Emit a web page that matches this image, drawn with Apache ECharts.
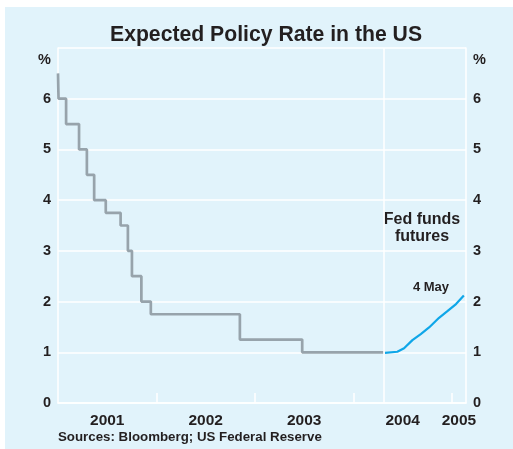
<!DOCTYPE html>
<html>
<head>
<meta charset="utf-8">
<script src="https://cdn.jsdelivr.net/npm/echarts@6/dist/echarts.min.js"></script>
<style>
html,body{margin:0;padding:0;background:#ffffff;}
#bg{position:absolute;left:5px;top:7px;right:0;bottom:0;background:#e1f3fb;}
#chart{position:absolute;left:0;top:0;width:513px;height:449px;}
</style>
</head>
<body>
<div id="bg"></div>
<div id="chart"></div>
<script>
// Fed funds target (history)
const policyDates = ['2001-01-01','2001-01-03','2001-01-31','2001-03-20','2001-04-18','2001-05-15','2001-06-27','2001-08-21','2001-09-17','2001-10-02','2001-11-06','2001-12-11','2002-11-06','2003-06-25','2004-04-22'];
const policyValues = [6.5, 6.0, 5.5, 5.0, 4.5, 4.0, 3.75, 3.5, 3.0, 2.5, 2.0, 1.75, 1.25, 1.0, 1.0];
// Fed funds futures (expected path as at 4 May)
const futuresDates = ['2004-04-27','2004-06-12','2004-07-07','2004-08-07','2004-09-07','2004-10-08','2004-11-14','2004-12-15','2005-01-16','2005-02-14'];
const futuresValues = [0.99, 1.01, 1.08, 1.24, 1.36, 1.49, 1.68, 1.81, 1.95, 2.12];
const yearLabels = ['2001','2002','2003','2004','2005'];
const yTicks = [0,1,2,3,4,5,6];
const dividerDate = '2004-04-23';
const axisStart = '2001-01-01';
const axisEnd = '2005-02-22';

function toYear(s){
  const d = new Date(s + 'T00:00:00Z');
  const y = d.getUTCFullYear();
  const a = Date.UTC(y,0,1), b = Date.UTC(y+1,0,1);
  return y + (d.getTime()-a)/(b-a);
}
const xMin = toYear(axisStart), xMax = toYear(axisEnd);
const policyData = policyDates.map((d,i)=>[toYear(d), policyValues[i]]);
const futuresData = futuresDates.map((d,i)=>[toYear(d), futuresValues[i]]);
const tickYears = yearLabels.slice(1).map(Number);
const labelPos = yearLabels.map(y => {
  const s = Number(y), e = Math.min(s+1, xMax);
  return (Math.max(s,xMin)+e)/2;
});

const FONT = 'Liberation Sans, Arial, Helvetica, sans-serif';
const TXT = '#231f20';
const chart = echarts.init(document.getElementById('chart'), null, {renderer:'canvas'});
const yAxisBase = {
  type:'value', min:0, max:7, interval:1,
  axisLine:{show:true, lineStyle:{color:'#ffffff', width:1.5}},
  axisTick:{show:false},
  axisLabel:{color:TXT, fontFamily:FONT, fontWeight:'bold', fontSize:14.5,
    formatter: v => yTicks.indexOf(v) >= 0 ? String(v) : ''}
};
chart.setOption({
  animation:false,
  backgroundColor:'transparent',
  title:{text:'Expected Policy Rate in the US', left:105, top:20,
    textStyle:{fontFamily:FONT, fontWeight:'bold', fontSize:21.2, color:TXT}},
  grid:{left:58, right:47, top:48, bottom:46},
  xAxis:{type:'value', min:xMin, max:xMax,
    axisLine:{show:true, onZero:false, lineStyle:{color:'#ffffff', width:1.5}},
    axisTick:{show:true, inside:true, length:10, customValues:tickYears, lineStyle:{color:'#ffffff', width:1.5}},
    axisLabel:{customValues:labelPos, formatter: v => String(Math.floor(v)), margin:10,
      color:TXT, fontFamily:FONT, fontWeight:'bold', fontSize:15.5},
    splitLine:{show:false}},
  yAxis:[
    Object.assign({}, yAxisBase, {position:'left', axisLabel:Object.assign({}, yAxisBase.axisLabel, {margin:7}),
      splitLine:{show:true, lineStyle:{color:'#ffffff', width:1.5}}}),
    Object.assign({}, yAxisBase, {position:'right', axisLabel:Object.assign({}, yAxisBase.axisLabel, {margin:7}),
      splitLine:{show:false}})
  ],
  series:[
    {type:'line', step:'end', data:policyData, symbol:'none',
      lineStyle:{color:'#97a3ab', width:2.7}, itemStyle:{color:'#97a3ab'},
      markLine:{silent:true, symbol:'none', label:{show:false},
        lineStyle:{color:'#ffffff', width:1.5, type:'solid'},
        data:[{xAxis: toYear(dividerDate)}]}, z:3},
    {type:'line', data:futuresData, symbol:'none',
      lineStyle:{color:'#0fa6e8', width:2.2}, itemStyle:{color:'#0fa6e8'}, z:4}
  ],
  graphic:[
    {type:'text', left:38, top:52, style:{text:'%', font:'bold 14.5px '+FONT, fill:TXT}},
    {type:'text', left:473, top:52, style:{text:'%', font:'bold 14.5px '+FONT, fill:TXT}},
    {type:'text', x:422, y:211, style:{text:'Fed funds\nfutures', font:'bold 16px '+FONT, fill:TXT, align:'center', lineHeight:17}},
    {type:'text', x:431, y:281, style:{text:'4 May', font:'bold 13px '+FONT, fill:TXT, align:'center'}},
    {type:'text', x:58, y:431, style:{text:'Sources: Bloomberg; US Federal Reserve', font:'bold 13.3px '+FONT, fill:TXT}}
  ]
});
</script>
</body>
</html>
